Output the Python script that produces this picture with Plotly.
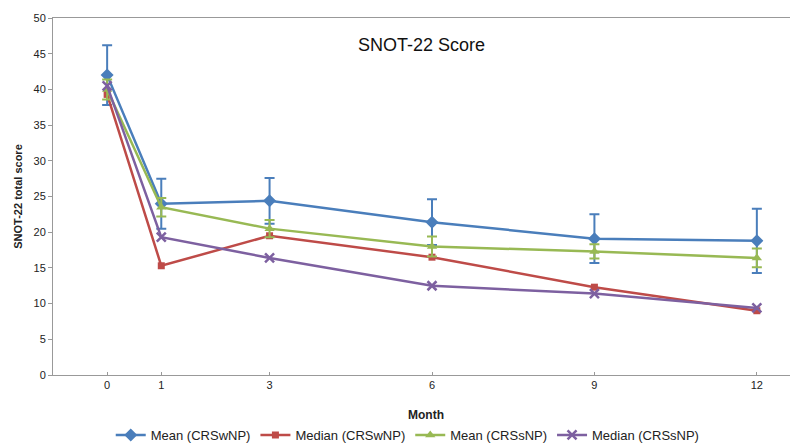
import plotly.graph_objects as go

months = [0, 1, 3, 6, 9, 12]
mean_wnp = [42.0, 24.0, 24.4, 21.4, 19.1, 18.8]
mean_wnp_err = [4.2, 3.5, 3.2, 3.2, 3.4, 4.5]
median_wnp = [39.3, 15.3, 19.5, 16.5, 12.3, 9.0]
mean_snp = [40.0, 23.5, 20.5, 18.0, 17.3, 16.4]
mean_snp_err = [1.4, 1.3, 1.2, 1.4, 1.0, 1.3]
median_snp = [40.5, 19.3, 16.4, 12.5, 11.4, 9.4]
tick_vals = [0, 1, 3, 6, 9, 12]

BLUE = "#4a7ebb"
RED = "#be4b48"
GREEN = "#98b954"
PURPLE = "#7d60a0"

fig = go.Figure()
fig.add_trace(go.Scatter(
    x=months, y=mean_wnp, name="Mean (CRSwNP)", mode="lines+markers",
    line=dict(color=BLUE, width=2.5), marker=dict(symbol="diamond", size=10, color=BLUE),
    error_y=dict(type="data", array=mean_wnp_err, color=BLUE, thickness=2, width=5)))
fig.add_trace(go.Scatter(
    x=months, y=median_wnp, name="Median (CRSwNP)", mode="lines+markers",
    line=dict(color=RED, width=2.5), marker=dict(symbol="square", size=7, color=RED)))
fig.add_trace(go.Scatter(
    x=months, y=mean_snp, name="Mean (CRSsNP)", mode="lines+markers",
    line=dict(color=GREEN, width=2.5), marker=dict(symbol="triangle-up", size=9, color=GREEN),
    error_y=dict(type="data", array=mean_snp_err, color=GREEN, thickness=2, width=5)))
fig.add_trace(go.Scatter(
    x=months, y=median_snp, name="Median (CRSsNP)", mode="lines+markers",
    line=dict(color=PURPLE, width=2.5), marker=dict(symbol="x-thin", size=9, color=PURPLE,
                                                    line=dict(color=PURPLE, width=2.5))))

fig.update_layout(
    width=790, height=435,
    margin=dict(l=45, r=0, t=10, b=68),
    paper_bgcolor="white", plot_bgcolor="white",
    font=dict(family="Liberation Sans, Arial, sans-serif", color="#222", size=11),
    showlegend=True,
    legend=dict(orientation="h", xref="container", yref="container", x=0.506, xanchor="center",
                y=0.0184, yanchor="middle", font=dict(size=13), itemwidth=30,
                traceorder="normal"),
)
fig.add_annotation(text="SNOT-22 Score", xref="x", yref="y", x=5.8, y=46.2,
                   showarrow=False, font=dict(size=18, color="#111"))
fig.add_annotation(text="<b>Month</b>", xref="paper", yref="paper", x=0.5, y=-0.112,
                   yanchor="middle", showarrow=False, font=dict(size=12, color="#222"))

fig.update_xaxes(
    range=[-1.0, 12.76], tickmode="array", tickvals=tick_vals, ticktext=[str(v) for v in tick_vals],
    showgrid=False, zeroline=False, showline=True, linecolor="#999", linewidth=1, mirror=True,
    ticks="inside", ticklen=3, tickcolor="#999", automargin=False,
    tickfont=dict(size=11))
fig.update_yaxes(
    range=[0, 50], dtick=5, showgrid=False, zeroline=False, showline=True,
    linecolor="#999", linewidth=1, ticks="outside", ticklen=4, tickcolor="#999", automargin=False,
    title=dict(text="<b>SNOT-22 total score</b>", font=dict(size=11), standoff=8),
    tickfont=dict(size=11))

fig.write_html("out.html")
